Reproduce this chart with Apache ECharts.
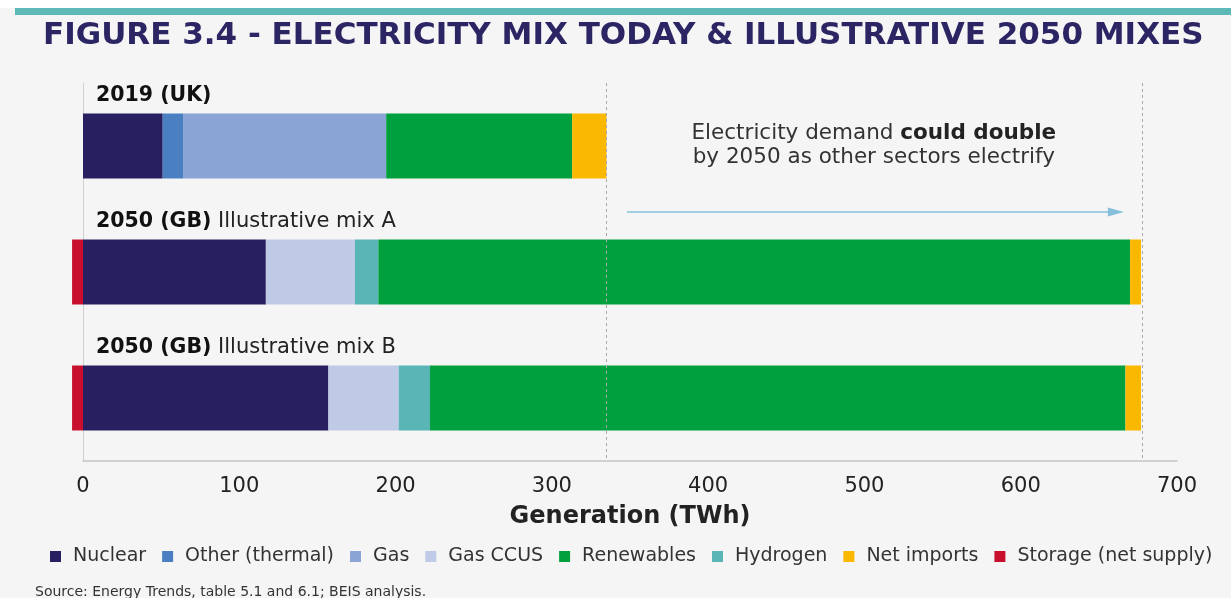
<!DOCTYPE html>
<html>
<head>
<meta charset="utf-8">
<script src="https://cdn.jsdelivr.net/npm/echarts@6/dist/echarts.min.js"></script>
<style>
  html, body { margin: 0; padding: 0; background: #f5f5f5; }
  #chart { width: 1231px; height: 598px; }
</style>
</head>
<body>
<div id="chart"></div>
<script>
// categories (top to bottom)
const categories = ["2019 (UK)", "2050 (GB) Illustrative mix A", "2050 (GB) Illustrative mix B"];
const categoryBold = ["2019 (UK)", "2050 (GB)", "2050 (GB)"];
const categoryRest = ["", "Illustrative mix A", "Illustrative mix B"];

// generation, TWh
const nuclear = [51, 117, 157];
const otherThermal = [13, 0, 0];
const gas = [130, 0, 0];
const gasCcus = [0, 57, 45];
const hydrogen = [0, 15, 20];
const renewables = [119, 481, 445];
const netImports = [22, 7, 10];
const storage = [0, -7, -7];

const xTicks = [0, 100, 200, 300, 400, 500, 600, 700];
const demandLines = [335, 678]; // today's total and doubled demand
const arrowFromTo = [348, 666];
const noteCentre = 506;

const font = "DejaVu Sans";

// stacking order (left to right) differs from legend order
const stackDefs = [
	{ name: "Nuclear", data: nuclear, color: "#271f5f" },
	{ name: "Other (thermal)", data: otherThermal, color: "#4a80c2" },
	{ name: "Gas", data: gas, color: "#89a4d5" },
	{ name: "Gas CCUS", data: gasCcus, color: "#bfcae6" },
	{ name: "Hydrogen", data: hydrogen, color: "#5ab5b7" },
	{ name: "Renewables", data: renewables, color: "#00a03e" },
	{ name: "Net imports", data: netImports, color: "#fbb800" },
	{ name: "Storage (net supply)", data: storage, color: "#c8102e" },
];
const legendOrder = ["Nuclear", "Other (thermal)", "Gas", "Gas CCUS", "Renewables", "Hydrogen", "Net imports", "Storage (net supply)"];

const series = stackDefs.map((s, i) => {
	const item = {
		name: s.name,
		type: "bar",
		stack: "mix",
		barWidth: 65,
		clip: false,
		data: s.data,
		itemStyle: { color: s.color },
		emphasis: { disabled: true },
	};
	if (i === 0) {
		item.markLine = {
			silent: true,
			symbol: "none",
			label: { show: false },
			lineStyle: { color: "#a8a8a8", type: [3, 3], width: 1 },
			data: demandLines.map(v => ({ xAxis: v })),
		};
	}
	return item;
});

const option = {
	backgroundColor: "#f5f5f5",
	animation: false,
	textStyle: { fontFamily: font },
	grid: { left: 83, right: 54, top: 83, bottom: 137 },
	legend: {
		data: legendOrder,
		left: 45,
		top: 542,
		itemWidth: 11,
		itemHeight: 11,
		itemGap: 16,
		icon: "rect",
		textStyle: { fontFamily: font, fontSize: 19, color: "#333", padding: [0, 0, 0, 7] },
	},
	xAxis: {
		type: "value",
		min: 0,
		max: 700,
		interval: 100,
		axisLine: { show: true, lineStyle: { color: "#c4c4c4", width: 1.5 } },
		axisTick: { show: false },
		splitLine: { show: false },
		axisLabel: {
			margin: 15,
			fontSize: 21,
			color: "#222",
			fontFamily: font,
			formatter: v => (xTicks.includes(v) ? String(v) : ""),
		},
		name: "Generation (TWh)",
		nameLocation: "middle",
		nameGap: 44,
		nameTextStyle: { fontSize: 24, fontWeight: "bold", color: "#222", fontFamily: font },
	},
	yAxis: {
		type: "category",
		inverse: true,
		data: categories,
		axisLine: { show: true, lineStyle: { color: "#d0d0d0" } },
		axisTick: { show: false },
		axisLabel: { show: false },
	},
	series: series,
};

const chart = echarts.init(document.getElementById("chart"));
chart.setOption(option);

function placeAnnotations() {
	const x0 = chart.convertToPixel({ xAxisIndex: 0 }, 0);
	const ys = categories.map(c => chart.convertToPixel({ yAxisIndex: 0 }, c));
	const ax1 = chart.convertToPixel({ xAxisIndex: 0 }, arrowFromTo[0]);
	const ax2 = chart.convertToPixel({ xAxisIndex: 0 }, arrowFromTo[1]);
	const ay = (ys[0] + ys[1]) / 2 + 3;
	const nx = chart.convertToPixel({ xAxisIndex: 0 }, noteCentre);

	const graphics = [
		{ type: "rect", id: "topWhite", left: 0, top: 0, shape: { width: 1231, height: 8 }, style: { fill: "#ffffff" } },
		{ type: "rect", id: "teal", left: 15, top: 8, shape: { width: 1216, height: 7 }, style: { fill: "#5cb9b5" } },
		{
			type: "text", id: "title", x: 43, y: 36,
			style: {
				text: "FIGURE 3.4 - ELECTRICITY MIX TODAY & ILLUSTRATIVE 2050 MIXES",
				font: "bold 31px " + font, fill: "#2b2563", verticalAlign: "middle",
			},
		},
		{
			type: "text", id: "source", x: 35, y: 585,
			style: {
				text: "Source: Energy Trends, table 5.1 and 6.1; BEIS analysis.",
				font: "14px " + font, fill: "#333",
			},
		},
		{
			type: "text", id: "note", x: nx, y: ys[0] - 1,
			style: {
				text: "Electricity demand {b|could double}\nby 2050 as other sectors electrify",
				font: "21.5px " + font, fill: "#333", align: "center", verticalAlign: "middle", lineHeight: 24,
				rich: { b: { font: "bold 21.5px " + font, fill: "#222" } },
			},
		},
		{
			type: "line", id: "arrowLine",
			shape: { x1: ax1, y1: ay, x2: ax2 - 10, y2: ay },
			style: { stroke: "#86bfdc", lineWidth: 1.5 },
		},
		{
			type: "polygon", id: "arrowHead",
			shape: { points: [[ax2, ay], [ax2 - 16, ay - 4.5], [ax2 - 16, ay + 4.5]] },
			style: { fill: "#86bfdc" },
		},
	];

	categories.forEach((c, i) => {
		graphics.push({
			type: "text", id: "cat" + i, x: x0 + 13, y: ys[i] - 50,
			style: {
				text: "{b|" + categoryBold[i] + "}" + (categoryRest[i] ? " " + categoryRest[i] : ""),
				font: "21px " + font, fill: "#222", verticalAlign: "middle",
				rich: { b: { font: "bold 20.5px " + font, fill: "#111" } },
			},
		});
	});

	chart.setOption({ graphic: graphics });
}

placeAnnotations();
</script>
</body>
</html>
